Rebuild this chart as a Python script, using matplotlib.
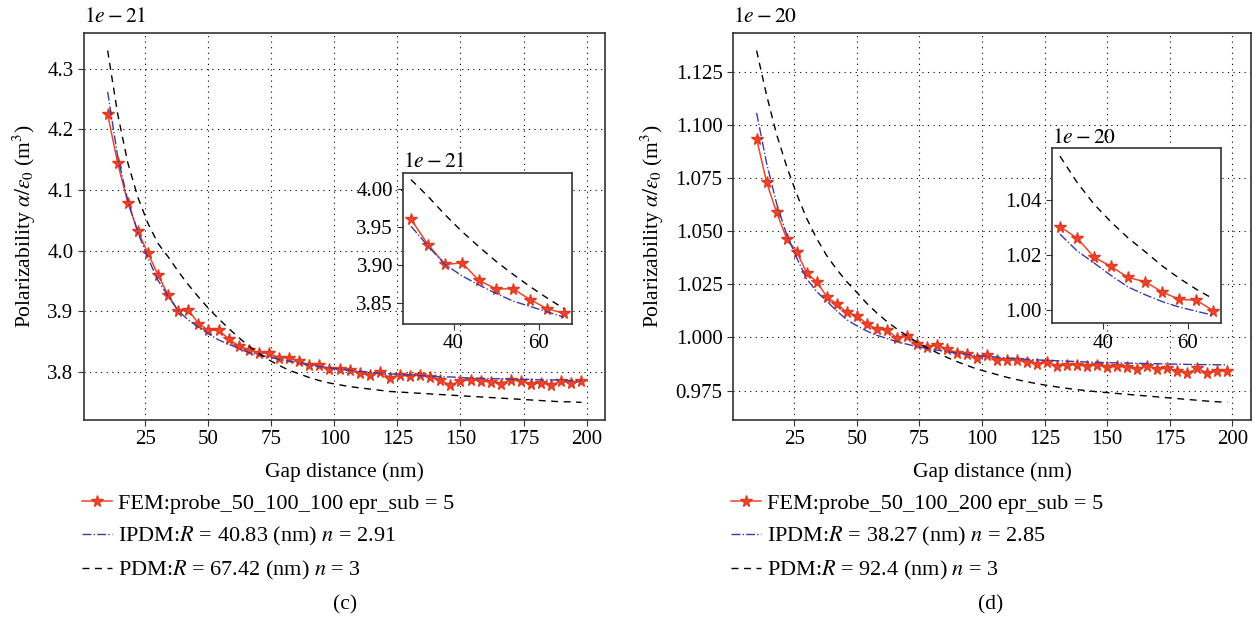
import matplotlib
matplotlib.use("Agg")
import matplotlib.pyplot as plt
import matplotlib.ticker as ticker
import numpy as np

plt.rcParams["font.family"] = ["Liberation Serif", "DejaVu Serif"]
plt.rcParams["mathtext.fontset"] = "stix"
plt.rcParams["font.size"] = 15.5
plt.rcParams["axes.linewidth"] = 1.2
plt.rcParams["axes.edgecolor"] = "#333333"

# gap distance (nm)
gap = [10, 14, 18, 22, 26, 30, 34, 38, 42, 46, 50, 54, 58, 62, 66, 70,
       74, 78, 82, 86, 90, 94, 98, 102, 106, 110, 114, 118, 122, 126, 130, 134,
       138, 142, 146, 150, 154, 158, 162, 166, 170, 174, 178, 182, 186, 190, 194, 198]

# (c) values in units of 1e-21 m^3
fem_c = [4.225, 4.144, 4.079, 4.032, 3.996, 3.960, 3.927, 3.901, 3.903, 3.880, 3.869, 3.869, 3.855, 3.843, 3.837, 3.832,
         3.831, 3.824, 3.824, 3.818, 3.811, 3.812, 3.805, 3.805, 3.803, 3.798, 3.795, 3.800, 3.791, 3.795, 3.793, 3.796,
         3.792, 3.787, 3.778, 3.786, 3.787, 3.786, 3.784, 3.781, 3.787, 3.785, 3.781, 3.782, 3.779, 3.785, 3.782, 3.785]
ipdm_c = [4.262, 4.155, 4.083, 4.030, 3.988, 3.951, 3.925, 3.901, 3.886, 3.874, 3.863, 3.853, 3.846, 3.839, 3.832, 3.828,
          3.825, 3.821, 3.818, 3.815, 3.812, 3.809, 3.807, 3.805, 3.803, 3.801, 3.800, 3.798, 3.797, 3.796, 3.795, 3.794,
          3.793, 3.792, 3.792, 3.791, 3.790, 3.790, 3.789, 3.789, 3.788, 3.788, 3.788, 3.787, 3.787, 3.787, 3.786, 3.786]
pdm_c = [4.330, 4.225, 4.145, 4.088, 4.045, 4.012, 3.990, 3.966, 3.944, 3.924, 3.905, 3.888, 3.872, 3.857, 3.843, 3.831,
         3.820, 3.811, 3.803, 3.797, 3.791, 3.786, 3.782, 3.779, 3.776, 3.774, 3.772, 3.770, 3.768, 3.767, 3.766, 3.765,
         3.764, 3.763, 3.762, 3.761, 3.760, 3.759, 3.758, 3.757, 3.756, 3.755, 3.754, 3.753, 3.752, 3.751, 3.751, 3.750]

# (d) values in units of 1e-20 m^3
fem_d = [1.0935, 1.0730, 1.0588, 1.0465, 1.0403, 1.0303, 1.0262, 1.0192, 1.0158, 1.0118, 1.0102, 1.0065, 1.0038, 1.0035, 0.9997, 1.0008,
         0.9969, 0.9953, 0.9966, 0.9945, 0.9927, 0.9922, 0.9902, 0.9919, 0.9895, 0.9894, 0.9894, 0.9883, 0.9875, 0.9883, 0.9867, 0.9872,
         0.9872, 0.9864, 0.9872, 0.9859, 0.9864, 0.9859, 0.9852, 0.9867, 0.9852, 0.9856, 0.9841, 0.9831, 0.9855, 0.9831, 0.9844, 0.9841]
ipdm_d = [1.1057, 1.0820, 1.0630, 1.0485, 1.0375, 1.0276, 1.0215, 1.0171, 1.0125, 1.0083, 1.0055, 1.0030, 1.0010, 0.9995, 0.9980, 0.9968,
          0.9957, 0.9948, 0.9940, 0.9933, 0.9926, 0.9920, 0.9915, 0.9911, 0.9907, 0.9903, 0.9900, 0.9897, 0.9894, 0.9892, 0.9890, 0.9888,
          0.9886, 0.9884, 0.9883, 0.9881, 0.9880, 0.9879, 0.9878, 0.9877, 0.9876, 0.9875, 0.9874, 0.9873, 0.9872, 0.9872, 0.9871, 0.9871]
pdm_d = [1.1350, 1.1140, 1.0955, 1.0805, 1.0675, 1.0560, 1.0465, 1.0385, 1.0320, 1.0262, 1.0212, 1.0160, 1.0115, 1.0075, 1.0040, 1.0008,
         0.9978, 0.9952, 0.9928, 0.9906, 0.9886, 0.9868, 0.9851, 0.9838, 0.9825, 0.9812, 0.9801, 0.9791, 0.9782, 0.9774, 0.9767, 0.9760,
         0.9754, 0.9749, 0.9744, 0.9740, 0.9736, 0.9732, 0.9728, 0.9724, 0.9720, 0.9716, 0.9712, 0.9708, 0.9704, 0.9700, 0.9697, 0.9694]

labels_c = ["FEM:probe_50_100_100 epr_sub = 5",
            r"IPDM:$R$ = 40.83 (nm) $n$ = 2.91",
            r"PDM:$R$ = 67.42 (nm) $n$ = 3"]
labels_d = ["FEM:probe_50_100_200 epr_sub = 5",
            r"IPDM:$R$ = 38.27 (nm) $n$ = 2.85",
            r"PDM:$R$ = 92.4 (nm) $n$ = 3"]

RED = "#f0452b"
BLUE = "#3a3aa8"


class SciFmt(ticker.ScalarFormatter):
    # show offset as 1e-21 in math style
    def get_offset(self):
        s = super().get_offset()
        if s:
            return "$" + s.replace("\u2212", "-") + "$"
        return s


def draw(ax, x, fem, ipdm, pdm, scale):
    x = np.array(x)
    l1, = ax.plot(x, np.array(fem) * scale, color=RED, lw=1.1, marker="*", ms=8.5,
                  mfc=RED, mec="#e23a20")
    l2, = ax.plot(x, np.array(ipdm) * scale, color=BLUE, lw=1.0, ls="-.")
    l3, = ax.plot(x, np.array(pdm) * scale, color="k", lw=1.0, ls=(0, (5, 4)))
    ax.yaxis.set_major_formatter(SciFmt())
    ax.yaxis.get_offset_text().set_fontsize(15.5)
    ax.tick_params(direction="out", length=4, color="#333333", labelsize=15)
    return [l1, l2, l3]


fig = plt.figure(figsize=(12.55, 6.18), dpi=100)

panels = [
    (fem_c, ipdm_c, pdm_c, 1e-21, labels_c, [0.0669, 0.3204, 0.4153, 0.6262],
     [0.3214, 0.4757, 0.1342, 0.2448], 0.1e-21, 0.05e-21, "(c)", 0.275),
    (fem_d, ipdm_d, pdm_d, 1e-20, labels_d, [0.5841, 0.3204, 0.4127, 0.6262],
     [0.8385, 0.4769, 0.1344, 0.2832], 0.025e-20, 0.02e-20, "(d)", 0.789),
]

for fem, ipdm, pdm, scale, labels, rect, irect, ystep, istep, cap, capx in panels:
    ax = fig.add_axes(rect)
    lines = draw(ax, gap, fem, ipdm, pdm, scale)
    ax.yaxis.OFFSETTEXTPAD = 8
    ax.xaxis.set_major_locator(ticker.MultipleLocator(25))
    ax.yaxis.set_major_locator(ticker.MultipleLocator(ystep))
    ax.grid(True, color="k", linestyle=(0, (1, 4)), linewidth=0.8)
    ax.set_xlabel("Gap distance (nm)", labelpad=9)
    ax.set_ylabel(r"Polarizability $\alpha/\varepsilon_0$ (m$^3$)", labelpad=7)
    ax.legend(lines, labels, loc="upper left", bbox_to_anchor=(-0.003, -0.19),
              frameon=False, borderaxespad=0, borderpad=0, handlelength=1.35,
              handletextpad=0.25, labelspacing=0.5, fontsize=16)
    fig.text(capx, 0.006, cap, ha="center", va="bottom", fontsize=15.5)

    # zoomed inset, points between 30 and 66 nm
    sel = [i for i, g in enumerate(gap) if 30 <= g <= 66]
    axi = fig.add_axes(irect)
    draw(axi, [gap[i] for i in sel], [fem[i] for i in sel], [ipdm[i] for i in sel],
         [pdm[i] for i in sel], scale)
    axi.yaxis.OFFSETTEXTPAD = 4
    axi.xaxis.set_major_locator(ticker.MultipleLocator(20))
    axi.yaxis.set_major_locator(ticker.MultipleLocator(istep))

fig.savefig("out.png", dpi=100)
